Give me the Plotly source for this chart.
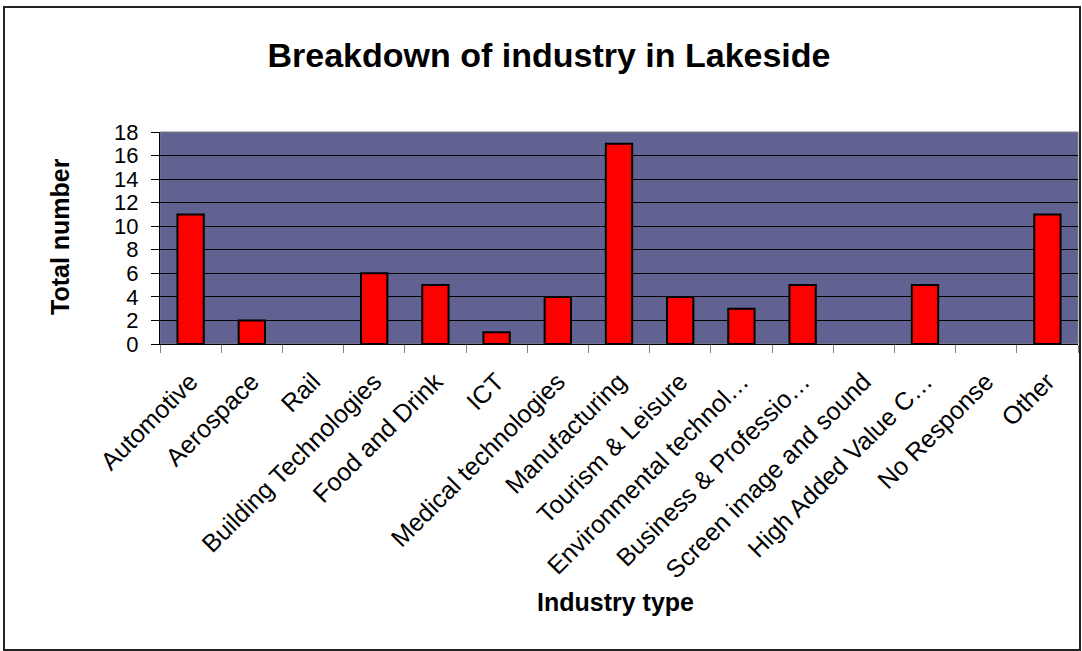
import plotly.graph_objects as go

industries = ["Automotive", "Aerospace", "Rail", "Building Technologies", "Food and Drink",
              "ICT", "Medical technologies", "Manufacturing", "Tourism & Leisure",
              "Environmental technol…", "Business & Professio…", "Screen image and sound",
              "High Added Value C…", "No Response", "Other"]
totals = [11, 2, 0, 6, 5, 1, 4, 17, 4, 3, 5, 0, 5, 0, 11]
y_ticks = list(range(0, 19, 2))

W, H = 1082, 651
L, R, T, B = 160, 4, 132, 307
pw, ph = W - L - R, H - T - B

# no outline on empty bars (Excel draws nothing there)
outline = [2 if v else 0 for v in totals]

fig = go.Figure(go.Bar(
    x=industries, y=totals,
    marker=dict(color="#ff0000", line=dict(color="#000000", width=outline)),
))

fig.update_layout(
    width=W, height=H,
    margin=dict(l=L, r=R, t=T, b=B),
    paper_bgcolor="white", plot_bgcolor="#616192",
    font=dict(family="Liberation Sans, Arial, sans-serif", size=24, color="black"),
    bargap=0.57, showlegend=False,
    title=dict(text="<b>Breakdown of industry in Lakeside</b>", x=549 / W, xanchor="center",
               y=1 - 55 / H, yanchor="middle", yref="container",
               font=dict(size=34)),
)
fig.update_xaxes(tickangle=-45, tickson="boundaries", ticks="outside", ticklen=8,
                 tickcolor="#808080", showline=True, linecolor="black", mirror=False,
                 showgrid=False, tickfont=dict(size=25), ticklabelstandoff=12)
fig.update_yaxes(range=[0, 18], tickvals=y_ticks, ticks="outside", ticklen=8,
                 tickcolor="black", showline=True, linecolor="black", showgrid=True,
                 gridcolor="black", gridwidth=1, zeroline=False, tickfont=dict(size=22),
                 ticklabelstandoff=8)

# plot-area right/top edge and outer chart border
fig.add_shape(type="rect", xref="paper", yref="paper", x0=0, x1=1, y0=0, y1=1,
              line=dict(color="#808080", width=1), layer="below")
fig.add_shape(type="rect", xref="paper", yref="paper",
              x0=(4 - L) / pw, x1=(1080 - L) / pw,
              y0=(T + ph - 650) / ph, y1=(T + ph - 7) / ph,
              line=dict(color="#222222", width=2))

fig.add_annotation(text="<b>Total number</b>", textangle=-90, showarrow=False,
                   xref="paper", yref="paper", x=(44 - L) / pw, y=(T + ph - 237) / ph,
                   font=dict(size=25))
fig.add_annotation(text="<b>Industry type</b>", showarrow=False,
                   xref="paper", yref="paper", x=(615 - L) / pw, y=(T + ph - 618) / ph,
                   font=dict(size=25))

fig.write_html("out.html", config={"displayModeBar": False},
               post_script="document.body.style.margin='0';")
